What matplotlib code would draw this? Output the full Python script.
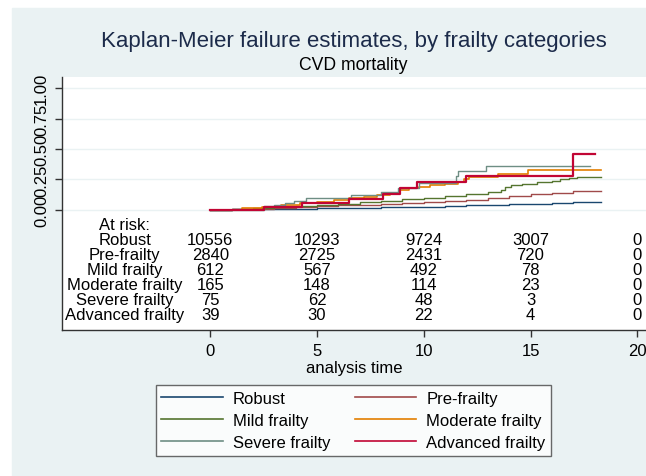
import matplotlib
matplotlib.use("Agg")
import matplotlib.pyplot as plt
from matplotlib.patches import Rectangle

plt.rcParams['font.family'] = ['Liberation Sans', 'DejaVu Sans']

# Kaplan-Meier failure curves (time in years, cumulative failure)
groups = ["Robust", "Pre-frailty", "Mild frailty", "Moderate frailty",
          "Severe frailty", "Advanced frailty"]
colors = ["#1a476f", "#a04a4a", "#55752f", "#e37e00", "#6e8e84", "#c10534"]

robust_t = [0, 1, 2, 3, 4, 5, 6, 7, 8, 9, 10, 11, 12, 13, 14, 15, 16, 17, 18.3]
robust_v = [0, .002, .004, .006, .008, .011, .013, .016, .019, .022, .026,
            .030, .035, .040, .045, .050, .055, .060, .063]
pre_t = [0, 1, 2, 3, 4, 5, 6, 7, 8, 9, 10, 11, 12, 13, 14, 15, 16, 17, 18.3]
pre_v = [0, .004, .009, .015, .021, .028, .035, .042, .049, .056, .064,
         .073, .084, .097, .111, .126, .141, .153, .156]
mild_t = [0, 1, 2, 3, 4, 5, 6, 7, 8, 9, 10, 11, 12, 13, 13.6, 13.8, 14.1,
          14.6, 15.3, 16.0, 16.4, 16.8, 17.2, 18.3]
mild_v = [0, .006, .013, .021, .03, .04, .05, .06, .072, .085, .098, .115,
          .132, .148, .16, .19, .205, .215, .228, .24, .25, .262, .27, .27]
mod_t = [0, 1.5, 2.4, 3.3, 4.2, 5.0, 5.8, 6.5, 7.2, 7.8, 8.4, 8.9, 9.3, 9.8,
         10.3, 11.0, 11.6, 11.9, 12.1, 13.5, 14.9, 18.3]
mod_v = [0, .013, .026, .04, .053, .066, .08, .093, .107, .12, .14, .16, .18,
         .19, .2, .21, .225, .25, .27, .294, .33, .33]
sev_t = [0, 2.5, 3.0, 3.5, 3.9, 4.5, 6.6, 8.0, 8.8, 9.8, 11.5, 11.6, 12.9, 17.8]
sev_v = [0, .027, .04, .054, .068, .094, .12, .15, .18, .22, .28, .32, .362, .362]
adv_t = [0, 2.5, 4.3, 6.5, 8.1, 8.9, 9.7, 12.0, 17.0, 18.0]
adv_v = [0, .026, .054, .088, .13, .18, .225, .275, .46, .46]

times = [robust_t, pre_t, mild_t, mod_t, sev_t, adv_t]
values = [robust_v, pre_v, mild_v, mod_v, sev_v, adv_v]
widths = [1.0, 1.0, 1.0, 1.2, 1.0, 1.6]

# number at risk
risk_times = [0, 5, 10, 15, 20]
at_risk = [
    [10556, 10293, 9724, 3007, 0],
    [2840, 2725, 2431, 720, 0],
    [612, 567, 492, 78, 0],
    [165, 148, 114, 23, 0],
    [75, 62, 48, 3, 0],
    [39, 30, 22, 4, 0],
]

bg = "#eaf2f3"
fig = plt.figure(figsize=(6.46, 4.77), dpi=100, facecolor="white")
fig.patches.append(Rectangle((12 / 646, 0), 1, 1 - 9 / 477, transform=fig.transFigure,
                             color=bg, zorder=-10))

ax = fig.add_axes([61.7 / 646, 1 - 331 / 477, 1 - 61.7 / 646, (331 - 78.3) / 477])
ax.set_facecolor("white")

lines = []
for t, v, c, w, g in zip(times, values, colors, widths, groups):
    ln, = ax.step(t, v, where="post", color=c, lw=w, label=g)
    lines.append(ln)

ax.set_xlim(-6.96, 20.41)
ax.set_ylim(-0.99, 1.09)
ax.set_yticks([0, 0.25, 0.5, 0.75, 1.0])
ax.set_yticklabels(["0.00", "0.25", "0.50", "0.75", "1.00"], rotation=90,
                   va="center", fontsize=12)
ax.set_xticks(risk_times)
ax.set_xticklabels([str(x) for x in risk_times], fontsize=12)
ax.tick_params(length=5, width=1, color="#333333", pad=4)
for y in [0, 0.25, 0.5, 0.75, 1.0]:
    ax.axhline(y, color=bg, lw=1, zorder=0)

for s in ["top", "right"]:
    ax.spines[s].set_visible(False)
for s in ["left", "bottom"]:
    ax.spines[s].set_color("#333333")
    ax.spines[s].set_linewidth(1)

# at-risk table
row_y0 = -0.118
row_step = 0.1243
ax.text(-4.0, row_y0, "At risk:", ha="center", va="center", fontsize=12)
for i, g in enumerate(groups):
    y = row_y0 - (i + 1) * row_step
    ax.text(-4.0, y, g, ha="center", va="center", fontsize=12)
    for tt, n in zip(risk_times, at_risk[i]):
        ax.text(tt, y, str(n), ha="center", va="center", fontsize=12)

ax.set_xlabel("analysis time", fontsize=12, labelpad=2)

fig.text(353.5 / 646, 1 - 41 / 477, "Kaplan-Meier failure estimates, by frailty categories",
         ha="center", va="center", fontsize=16, color="#1c2b4a")
fig.text(353.5 / 646, 1 - 66 / 477, "CVD mortality", ha="center", va="center",
         fontsize=12.7, color="black")

# legend filled row by row (matplotlib fills columns first)
order = [0, 2, 4, 1, 3, 5]
leg = fig.legend([lines[i] for i in order], [groups[i] for i in order],
                 loc="center", bbox_to_anchor=(353.5 / 646, 1 - 421.5 / 477), ncol=2,
                 fontsize=12, frameon=True, fancybox=False, edgecolor="#444444",
                 handlelength=3.7, handletextpad=0.6, columnspacing=1.45,
                 labelspacing=0.42, borderpad=0.35)
leg.get_frame().set_linewidth(1)
for line in leg.get_lines():
    line.set_linewidth(1.2)

fig.savefig("out.png", dpi=100, facecolor=fig.get_facecolor())
